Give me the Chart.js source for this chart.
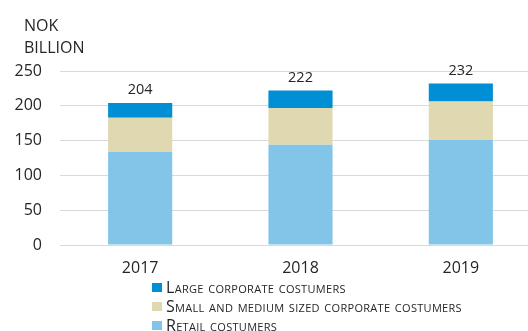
<!DOCTYPE html>
<html>
<head>
<meta charset="utf-8">
<script src="https://cdn.jsdelivr.net/npm/chart.js@4/dist/chart.umd.min.js"></script>
<style>
html,body{margin:0;padding:0;overflow:hidden;background:#fff;}
#wrap{width:528px;height:331px;overflow:hidden;}
</style>
</head>
<body>
<div id="wrap"><canvas id="c" width="542" height="331"></canvas></div>
<script>
const categories = ['2017', '2018', '2019'];
const retail = [134, 144, 151];
const smallMedium = [49, 53, 55];
const large = [21, 25, 26];
const totals = [204, 222, 232];
const yTicks = [0, 50, 100, 150, 200, 250];
const seriesNames = ['Retail costumers', 'Small and medium sized corporate costumers', 'Large corporate costumers'];
const unitLines = ['NOK', 'BILLION'];

const FONT = "'Open Sans', 'Liberation Sans', sans-serif";
const TXT = '#262626';

const extras = {
  id: 'extras',
  afterDraw(chart) {
    const ctx = chart.ctx;
    ctx.save();
    ctx.fillStyle = TXT;
    ctx.font = '16px ' + FONT;
    ctx.textAlign = 'left';
    ctx.textBaseline = 'alphabetic';
    ctx.fillText(unitLines[0], 24, 31);
    ctx.fillText(unitLines[1], 24, 53);
    const top = chart.getDatasetMeta(2);
    ctx.textAlign = 'center';
    ctx.textBaseline = 'middle';
    ctx.font = '14.5px ' + FONT;
    top.data.forEach((bar, i) => {
      ctx.fillText(String(totals[i]), bar.x, bar.y - 13);
    });
    ctx.textAlign = 'left';
    ctx.textBaseline = 'alphabetic';
    ctx.font = '16px ' + FONT;
    try { ctx.fontVariantCaps = 'small-caps'; } catch (e) {}
    try { ctx.letterSpacing = '0.3px'; } catch (e) {}
    const ds = chart.data.datasets;
    const order = [2, 1, 0];
    order.forEach((di, row) => {
      const y = 283 + row * 19;
      ctx.fillStyle = ds[di].backgroundColor;
      ctx.fillRect(152, y, 10, 9);
      ctx.fillStyle = TXT;
      ctx.fillText(ds[di].label, 166, y + 9.5);
    });
    ctx.restore();
  }
};

new Chart(document.getElementById('c'), {
  type: 'bar',
  data: {
    labels: categories,
    datasets: [
      { label: seriesNames[0], data: retail, backgroundColor: '#82C5E8' },
      { label: seriesNames[1], data: smallMedium, backgroundColor: '#E0D8B0' },
      { label: seriesNames[2], data: large, backgroundColor: '#008FD5' }
    ]
  },
  options: {
    responsive: false,
    animation: false,
    devicePixelRatio: 1,
    layout: { padding: { top: 71, bottom: 52, left: 14, right: 1 } },
    datasets: { bar: { categoryPercentage: 1, barPercentage: 0.4, borderWidth: 0 } },
    plugins: { legend: { display: false }, tooltip: { enabled: false }, title: { display: false } },
    scales: {
      x: {
        stacked: true,
        afterFit(scale) { scale.height = 34; },
        grid: { display: false, drawTicks: false },
        border: { display: false },
        ticks: { color: TXT, font: { family: FONT, size: 16 }, padding: 14, maxRotation: 0 }
      },
      y: {
        stacked: true,
        min: 0,
        max: 250,
        afterFit(scale) { scale.width = 46; },
        afterBuildTicks(scale) { scale.ticks = yTicks.map(v => ({ value: v })); },
        grid: { color: '#D9D9D9', lineWidth: 1, drawTicks: false },
        border: { display: false },
        ticks: { color: TXT, font: { family: FONT, size: 16 }, padding: 18 }
      }
    }
  },
  plugins: [extras]
});
</script>
</body>
</html>
